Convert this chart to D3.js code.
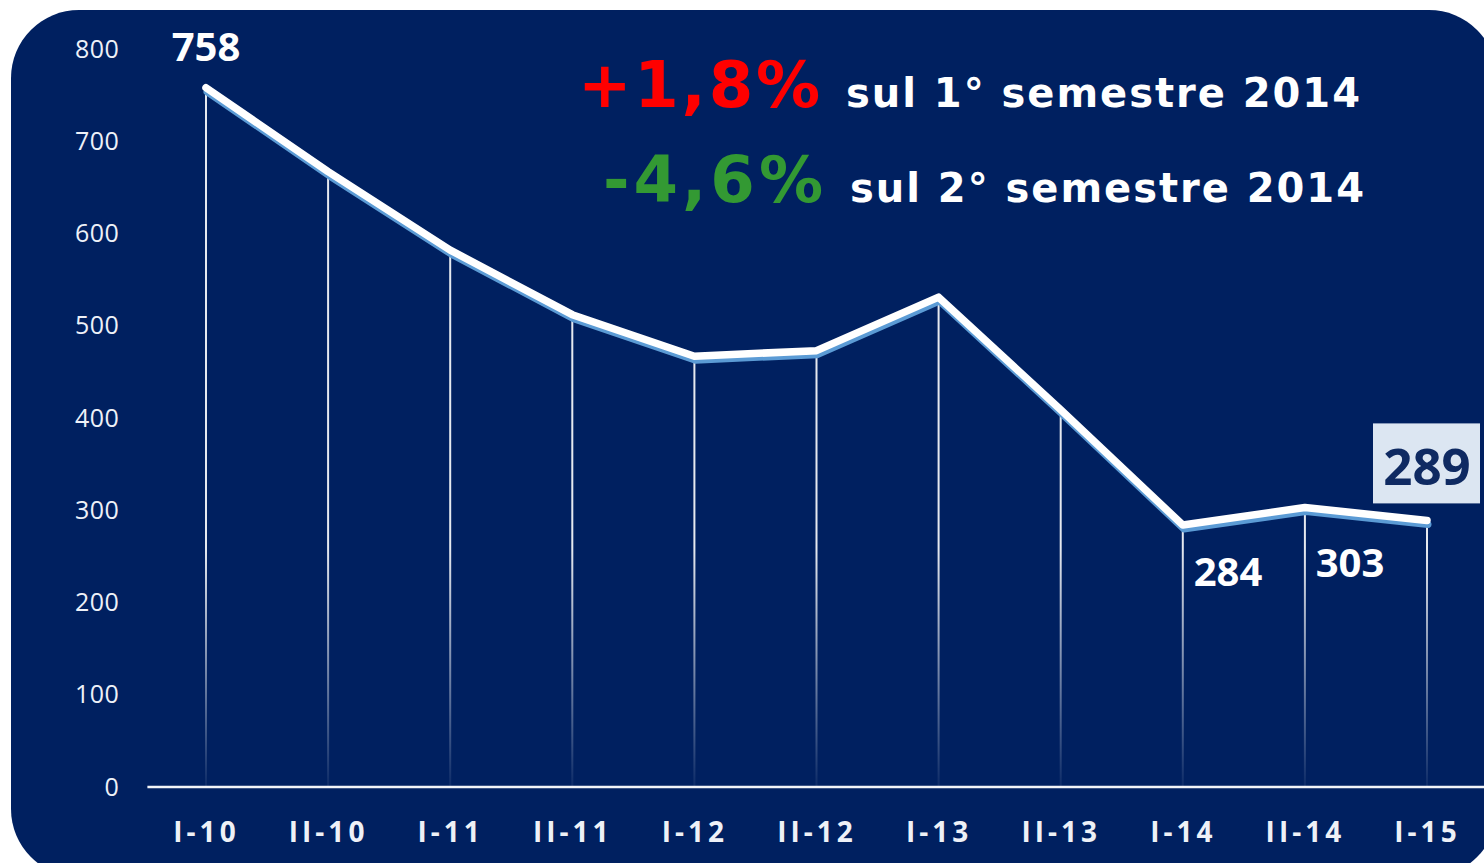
<!DOCTYPE html>
<html>
<head>
<meta charset="utf-8">
<script src="https://cdn.jsdelivr.net/npm/d3@7"></script>
<style>
  body { margin: 0; background: #ffffff; }
  svg { display: block; }
</style>
</head>
<body>
<svg id="chart"></svg>
<script>
// chart data
var semesters = ["I-10", "II-10", "I-11", "II-11", "I-12", "II-12", "I-13", "II-13", "I-14", "II-14", "I-15"]
var values = [758, 667, 582, 512, 467, 473, 531, 409, 284, 303, 289]
var yTicks = [0, 100, 200, 300, 400, 500, 600, 700, 800]
// which points get a value label
var labelled = {"I-10": "above", "I-14": "below", "II-14": "below", "I-15": "box"}
var notes = [
  {change: "+1,8%", color: "#ff0000", text: "sul 1° semestre 2014"},
  {change: "-4,6%", color: "#339933", text: "sul 2° semestre 2014"}
]

var width = 1484, height = 863
var navy = "#002060"

var svg = d3.select("#chart")
  .attr("width", width)
  .attr("height", height)

// rounded panel background
svg.append("rect")
  .attr("x", 11).attr("y", 10)
  .attr("width", width + 2).attr("height", height + 4)
  .attr("rx", 68).attr("ry", 68)
  .attr("fill", navy)

var xScale = d3.scalePoint()
  .domain(semesters)
  .range([206, 1427])

var yScale = d3.scaleLinear()
  .domain([0, 800])
  .range([787, 49])

var step = xScale.step()

// fading gradient for the drop lines
var defs = svg.append("defs")
var grad = defs.append("linearGradient")
  .attr("id", "fade")
  .attr("gradientUnits", "userSpaceOnUse")
  .attr("x1", 0).attr("x2", 0)
  .attr("y1", yScale(260)).attr("y2", yScale(0))
grad.append("stop").attr("offset", 0).attr("stop-color", "#ffffff").attr("stop-opacity", 0.9)
grad.append("stop").attr("offset", 1).attr("stop-color", "#ffffff").attr("stop-opacity", 0.05)

// y axis labels
var yAxis = svg.append("g")
  .attr("class", "y axis")
  .attr("transform", "translate(" + (xScale.range()[0] - step * 0.71) + ",0)")
  .call(d3.axisLeft(yScale).tickValues(yTicks).tickSize(0).tickPadding(0))
yAxis.select(".domain").remove()
yAxis.selectAll("text")
  .attr("fill", "#eef1f8")
  .attr("font-family", "'Open Sans', sans-serif")
  .attr("font-size", 25)
  .attr("letter-spacing", 0.5)

// x axis baseline
svg.append("line")
  .attr("x1", xScale.range()[0] - step * 0.48)
  .attr("x2", width)
  .attr("y1", yScale(0)).attr("y2", yScale(0))
  .attr("stroke", "#f2f4f8")
  .attr("stroke-width", 2.5)

// x axis labels
var xAxis = svg.append("g")
  .attr("class", "x axis")
  .attr("transform", "translate(0," + yScale(0) + ")")
  .call(d3.axisBottom(xScale).tickSize(0).tickPadding(35))
xAxis.select(".domain").remove()
xAxis.selectAll("text")
  .attr("fill", "#eef1f7")
  .attr("font-family", "'Open Sans', sans-serif")
  .attr("font-weight", "bold")
  .attr("font-size", 28)
  .attr("letter-spacing", 4)

var points = semesters.map(function(s, i) { return {sem: s, value: values[i]} })

// drop lines
svg.selectAll(".drop")
  .data(points)
  .enter().append("line")
  .attr("class", "drop")
  .attr("x1", function(d) { return xScale(d.sem) })
  .attr("x2", function(d) { return xScale(d.sem) })
  .attr("y1", function(d) { return yScale(d.value) })
  .attr("y2", yScale(0))
  .attr("stroke", "url(#fade)")
  .attr("stroke-width", 2)

var line = d3.line()
  .x(function(d) { return xScale(d.sem) })
  .y(function(d) { return yScale(d.value) })

// blue shadow line under the white one
svg.append("path")
  .datum(points)
  .attr("transform", "translate(1,4)")
  .attr("fill", "none")
  .attr("stroke", "#5b9bd5")
  .attr("stroke-width", 7)
  .attr("stroke-linejoin", "round")
  .attr("stroke-linecap", "round")
  .attr("d", line)

svg.append("path")
  .datum(points)
  .attr("fill", "none")
  .attr("stroke", "#ffffff")
  .attr("stroke-width", 7.5)
  .attr("stroke-linejoin", "round")
  .attr("stroke-linecap", "round")
  .attr("d", line)

// value labels
var lab = points.filter(function(d) { return labelled[d.sem] })
lab.forEach(function(d) {
  var kind = labelled[d.sem]
  var x = xScale(d.sem), y = yScale(d.value)
  if (kind == "above") {
    svg.append("text").text(d.value)
      .attr("x", x).attr("y", y - 27)
      .attr("text-anchor", "middle")
      .attr("fill", "#ffffff")
      .attr("font-family", "'Open Sans', sans-serif")
      .attr("font-weight", "bold")
      .attr("font-size", 40)
  } else if (kind == "below") {
    // labels sit to the right of the drop line, a bit under the point
    svg.append("text").text(d.value)
      .attr("x", x + step * 0.37).attr("y", yScale(0) - 201)
      .attr("text-anchor", "middle")
      .attr("fill", "#ffffff")
      .attr("font-family", "'Open Sans', sans-serif")
      .attr("font-weight", "bold")
      .attr("font-size", 40)
      .attr("dy", d.value > 290 ? -9 : 0)
  } else {
    svg.append("rect")
      .attr("x", x - 54).attr("y", y - 97)
      .attr("width", 107).attr("height", 80)
      .attr("fill", "#dce6f2")
    svg.append("text").text(d.value)
      .attr("x", x).attr("y", y - 35)
      .attr("text-anchor", "middle")
      .attr("fill", "#0f2a62")
      .attr("font-family", "'Open Sans', sans-serif")
      .attr("font-weight", "bold")
      .attr("font-size", 51)
  }
})

// percentage notes at the top
notes.forEach(function(n, i) {
  var base = 107 + i * 95
  svg.append("text").text(n.change)
    .attr("x", 820 + i * 3).attr("y", base)
    .attr("text-anchor", "end")
    .attr("fill", n.color)
    .attr("font-family", "'DejaVu Sans', Verdana, sans-serif")
    .attr("font-weight", "bold")
    .attr("font-size", 64)
    .attr("textLength", 242 - i * 22)
  svg.append("text").text(n.text)
    .attr("x", 846 + i * 4).attr("y", base)
    .attr("fill", "#ffffff")
    .attr("font-family", "'DejaVu Sans', Verdana, sans-serif")
    .attr("font-weight", "bold")
    .attr("font-size", 40)
    .attr("textLength", 514)
})
</script>
</body>
</html>
